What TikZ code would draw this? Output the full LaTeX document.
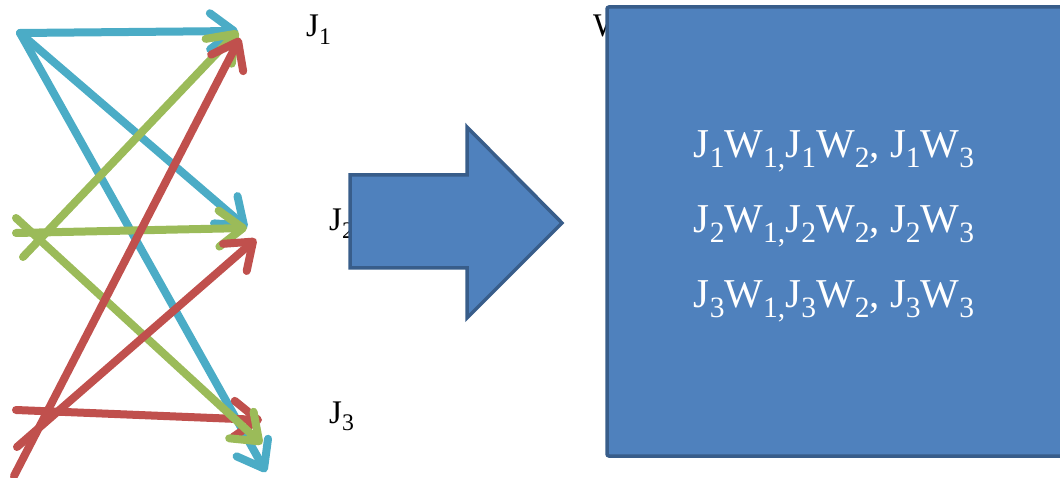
\documentclass[tikz,border=0pt]{standalone}
\usepackage{fontspec}
\setmainfont{Liberation Serif}
\usepackage{graphicx}
\usetikzlibrary{arrows.meta}
\definecolor{lblue}{HTML}{4BACC6}
\definecolor{lgreen}{HTML}{9BBB59}
\definecolor{lred}{HTML}{C0504D}
\definecolor{boxfill}{HTML}{4F81BD}
\definecolor{boxline}{HTML}{385D8A}
\newcommand\sbs[1]{\raisebox{-0.22em}{\scalebox{0.72}{#1}}}
\tikzset{
  link/.style={line width=8pt, line cap=round,
    -{Straight Barb[length=24pt, width=36pt, line cap=round, line join=round]}},
  lbl/.style={font=\fontsize{33}{33}\selectfont, anchor=base west, inner sep=0pt},
  combo/.style={font=\fontsize{41}{41}\selectfont, text=white, anchor=base, inner sep=0pt},
  block/.style={fill=boxfill, draw=boxline, line width=3.5pt, line join=miter}
}
\begin{document}
\begin{tikzpicture}[x=1pt, y=-1pt]
\useasboundingbox (0,0) rectangle (1060,478);

% end points of the links
\coordinate (b0) at (20,33);
\coordinate (g0) at (23,257);
\coordinate (g1) at (16,233);
\coordinate (g2) at (16,218);
\coordinate (r0) at (14,476);
\coordinate (r1) at (17,447);
\coordinate (r2) at (16,410);
\coordinate (t1) at (238,31);
\coordinate (t2) at (247,228);
\coordinate (t3) at (262,444);
\coordinate (u3) at (266,472);
\coordinate (u1) at (240,38);
\coordinate (u2) at (256,239);
\coordinate (v3) at (262,420);

% blue links
\draw[link, lblue] (b0) -- (t1);
\draw[link, lblue] (b0) -- (t2);
\draw[link, lblue] (b0) -- (u3);
% red link to J3
\draw[link, lred] (r2) -- (v3);
% green links
\draw[link, lgreen] (g0) -- (t1);
\draw[link, lgreen] (g1) -- (t2);
\draw[link, lgreen] (g2) -- (t3);
% red links to J1 and J2
\draw[link, lred] (r0) -- (u1);
\draw[link, lred] (r1) -- (u2);

% labels
\node[lbl] (j1) at (306,37) {J\sbs{1}};
\node[lbl] (j2) at (329,231) {J\sbs{2}};
\node[lbl] (j3) at (329,423) {J\sbs{3}};
\node[lbl] (w1) at (593,37) {W\sbs{1}};

% block arrow
\draw[block] (350,175) -- (467,175) -- (467,127) -- (562,223) -- (467,318)
  -- (467,268) -- (350,268) -- cycle;

% result box
\draw[block, rounded corners=2pt] (607,7) rectangle (1075,456);
\node[combo] (c1) at (834,158) {J\sbs{1}W\sbs{1,}J\sbs{1}W\sbs{2}, J\sbs{1}W\sbs{3}};
\node[combo] (c2) at (834,233) {J\sbs{2}W\sbs{1,}J\sbs{2}W\sbs{2}, J\sbs{2}W\sbs{3}};
\node[combo] (c3) at (834,308) {J\sbs{3}W\sbs{1,}J\sbs{3}W\sbs{2}, J\sbs{3}W\sbs{3}};
\end{tikzpicture}
\end{document}
